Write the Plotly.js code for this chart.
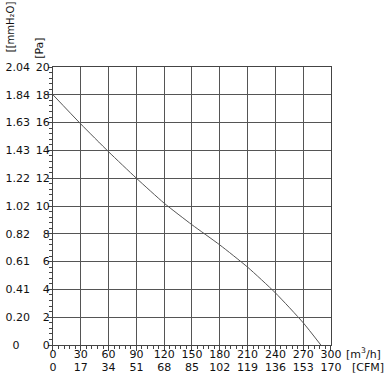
<!DOCTYPE html>
<html>
<head>
<meta charset="utf-8">
<script src="https://cdn.plot.ly/plotly-3.0.1.min.js"></script>
<style>html,body{margin:0;padding:0;background:#fff;}#chart{width:388px;height:379px;}</style>
</head>
<body>
<div id="chart"></div>
<script>
// Data
var flowM3h = [0, 30, 60, 90, 120, 150, 180, 210, 240, 270, 289];
var pressurePa = [18, 15.9, 13.9, 12.0, 10.2, 8.65, 7.2, 5.6, 3.75, 1.6, 0];

// Tick labels
var paTicks = [0, 2, 4, 6, 8, 10, 12, 14, 16, 18, 20];
var mmH2OLabels = ['0\u00a0\u00a0\u00a0', '0.20', '0.41', '0.61', '0.82', '1.02', '1.22', '1.43', '1.63', '1.84', '2.04'];
var m3hTicks = [0, 30, 60, 90, 120, 150, 180, 210, 240, 270, 300];
var cfmLabels = ['0', '17', '34', '51', '68', '85', '102', '119', '136', '153', '170'];

var font = {family: 'DejaVu Sans, Verdana, sans-serif', size: 11, color: '#111'};

var traces = [
  {x: flowM3h, y: pressurePa, type: 'scatter', mode: 'lines',
   line: {color: '#555', width: 1, shape: 'spline', smoothing: 0.6},
   hoverinfo: 'skip', showlegend: false},
  {x: [0, 300], y: [0, 20], xaxis: 'x2', yaxis: 'y2', type: 'scatter', mode: 'none',
   hoverinfo: 'skip', showlegend: false}
];

// paper spans px x 30..331, y 67..365
var layout = {
  width: 388, height: 379,
  margin: {l: 30, r: 57, t: 67, b: 14},
  paper_bgcolor: '#fff', plot_bgcolor: '#fff',
  font: font,
  showlegend: false,
  xaxis: {
    domain: [0.0764, 1],
    range: [0, 300], tickvals: m3hTicks, ticktext: m3hTicks.map(String),
    showgrid: true, gridcolor: '#555', gridwidth: 1,
    showline: true, linecolor: '#444', linewidth: 1, mirror: true,
    ticks: 'outside', ticklen: 5, tickcolor: '#444', zeroline: false,
    minor: {dtick: 6, ticks: 'outside', ticklen: 3, tickcolor: '#444', showgrid: false},
    ticklabelstandoff: -6,
    tickfont: font, fixedrange: true
  },
  xaxis2: {
    domain: [0.0764, 1],
    range: [0, 300], overlaying: 'x', side: 'bottom', anchor: 'free', position: 0,
    tickvals: m3hTicks, ticktext: cfmLabels,
    showgrid: false, showline: false, ticks: '', zeroline: false,
    ticklabelstandoff: -6,
    tickfont: font, fixedrange: true
  },
  yaxis: {
    domain: [0.0671, 1],
    range: [0, 20], tickvals: paTicks, ticktext: paTicks.map(String),
    showgrid: true, gridcolor: '#555', gridwidth: 1,
    showline: true, linecolor: '#444', linewidth: 1, mirror: true,
    ticks: 'outside', ticklen: 4, tickcolor: '#444', zeroline: false,
    minor: {dtick: 0.4, ticks: 'outside', ticklen: 3, tickcolor: '#444', showgrid: false},
    ticklabelstandoff: -4,
    tickfont: font, fixedrange: true
  },
  yaxis2: {
    domain: [0.0671, 1],
    range: [0, 20], overlaying: 'y', side: 'left', anchor: 'free', position: 0,
    tickvals: paTicks, ticktext: mmH2OLabels,
    showgrid: false, showline: false, ticks: '', zeroline: false,
    tickfont: font, fixedrange: true
  },
  annotations: [
    {text: '[Pa]', xref: 'paper', yref: 'paper', x: 0.033, y: 1.064, textangle: -90,
     showarrow: false, xanchor: 'center', yanchor: 'middle', font: font},
    {text: '[[mmH\u2082O]', xref: 'paper', yref: 'paper', x: -0.066, y: 1.134, textangle: -90,
     showarrow: false, xanchor: 'center', yanchor: 'middle',
     font: {family: font.family, size: 10, color: font.color}},
    {text: '[m<sup>3</sup>/h]', xref: 'paper', yref: 'paper', x: 1.043, y: 0.040,
     showarrow: false, xanchor: 'left', yanchor: 'middle', font: font},
    {text: '[CFM]', xref: 'paper', yref: 'paper', x: 1.063, y: -0.010,
     showarrow: false, xanchor: 'left', yanchor: 'middle', font: font}
  ]
};

Plotly.newPlot('chart', traces, layout, {displayModeBar: false, staticPlot: true});
</script>
</body>
</html>
